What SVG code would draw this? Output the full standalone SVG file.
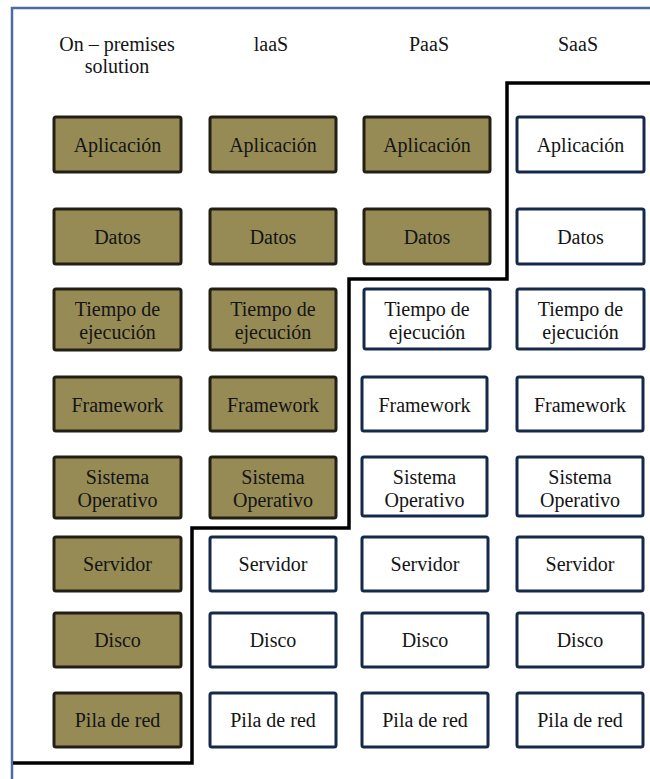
<svg xmlns="http://www.w3.org/2000/svg" width="650" height="779" viewBox="0 0 650 779">
  <style>
    .t { font-family: 'Liberation Serif', Tinos, 'Times New Roman', Times, 'DejaVu Serif', serif; font-size: 20px; fill: #141414; text-anchor: middle; }
    .own { fill: #968b55; stroke: #231f14; stroke-width: 3; }
    .svc { fill: #ffffff; stroke: #15294a; stroke-width: 3; }
    .frame { fill: none; stroke: #4a6c9e; stroke-width: 2.5; }
    .step { fill: none; stroke: #000000; stroke-width: 3.5; stroke-linejoin: miter; }
  </style>
  <rect width="650" height="779" fill="#ffffff"/>

  <!-- page frame -->
  <path class="frame" d="M 12 779 V 8 H 650"/>

  <!-- column headers -->
  <g id="headers">
    <text class="t" x="117" y="51">On – premises</text>
    <text class="t" x="117" y="73">solution</text>
    <text class="t" x="271" y="51">laaS</text>
    <text class="t" x="429" y="51">PaaS</text>
    <text class="t" x="578" y="51">SaaS</text>
  </g>

  <!-- responsibility boundary -->
  <g id="connectors">
    <path class="step" d="M 650 83 H 507 V 279 H 349 V 528 H 192 V 763 H 13"/>
  </g>

  <!-- On-premises column -->
  <g id="op-app"><rect class="own" x="54" y="117" width="127" height="55" rx="2"/><text class="t" x="117.5" y="152">Aplicación</text></g>
  <g id="op-data"><rect class="own" x="54" y="209" width="127" height="55" rx="2"/><text class="t" x="117.5" y="244">Datos</text></g>
  <g id="op-runtime"><rect class="own" x="54" y="289" width="127" height="61" rx="2"/><text class="t" x="117.5" y="316">Tiempo de</text><text class="t" x="117.5" y="339">ejecución</text></g>
  <g id="op-framework"><rect class="own" x="54" y="377" width="127" height="54" rx="2"/><text class="t" x="117.5" y="412">Framework</text></g>
  <g id="op-os"><rect class="own" x="54" y="457" width="127" height="61" rx="2"/><text class="t" x="117.5" y="484">Sistema</text><text class="t" x="117.5" y="507">Operativo</text></g>
  <g id="op-server"><rect class="own" x="54" y="537" width="127" height="54" rx="2"/><text class="t" x="117.5" y="571">Servidor</text></g>
  <g id="op-disk"><rect class="own" x="54" y="613" width="127" height="54" rx="2"/><text class="t" x="117.5" y="647">Disco</text></g>
  <g id="op-net"><rect class="own" x="54" y="693" width="127" height="54" rx="2"/><text class="t" x="117.5" y="727">Pila de red</text></g>

  <!-- IaaS column -->
  <g id="iaas-app"><rect class="own" x="210" y="117" width="126" height="55" rx="2"/><text class="t" x="273" y="152">Aplicación</text></g>
  <g id="iaas-data"><rect class="own" x="210" y="209" width="126" height="55" rx="2"/><text class="t" x="273" y="244">Datos</text></g>
  <g id="iaas-runtime"><rect class="own" x="210" y="289" width="126" height="61" rx="2"/><text class="t" x="273" y="316">Tiempo de</text><text class="t" x="273" y="339">ejecución</text></g>
  <g id="iaas-framework"><rect class="own" x="210" y="377" width="126" height="54" rx="2"/><text class="t" x="273" y="412">Framework</text></g>
  <g id="iaas-os"><rect class="own" x="210" y="457" width="126" height="61" rx="2"/><text class="t" x="273" y="484">Sistema</text><text class="t" x="273" y="507">Operativo</text></g>
  <g id="iaas-server"><rect class="svc" x="210" y="537" width="126" height="54" rx="2"/><text class="t" x="273" y="571">Servidor</text></g>
  <g id="iaas-disk"><rect class="svc" x="210" y="613" width="126" height="54" rx="2"/><text class="t" x="273" y="647">Disco</text></g>
  <g id="iaas-net"><rect class="svc" x="210" y="693" width="126" height="54" rx="2"/><text class="t" x="273" y="727">Pila de red</text></g>

  <!-- PaaS column -->
  <g id="paas-app"><rect class="own" x="364" y="117" width="126" height="55" rx="2"/><text class="t" x="427" y="152">Aplicación</text></g>
  <g id="paas-data"><rect class="own" x="364" y="209" width="126" height="55" rx="2"/><text class="t" x="427" y="244">Datos</text></g>
  <g id="paas-runtime"><rect class="svc" x="364" y="289" width="126" height="60" rx="2"/><text class="t" x="427" y="316">Tiempo de</text><text class="t" x="427" y="339">ejecución</text></g>
  <g id="paas-framework"><rect class="svc" x="362" y="377" width="125" height="54" rx="2"/><text class="t" x="424.5" y="412">Framework</text></g>
  <g id="paas-os"><rect class="svc" x="362" y="457" width="125" height="59" rx="2"/><text class="t" x="424.5" y="484">Sistema</text><text class="t" x="424.5" y="507">Operativo</text></g>
  <g id="paas-server"><rect class="svc" x="362" y="537" width="126" height="54" rx="2"/><text class="t" x="425" y="571">Servidor</text></g>
  <g id="paas-disk"><rect class="svc" x="362" y="613" width="126" height="54" rx="2"/><text class="t" x="425" y="647">Disco</text></g>
  <g id="paas-net"><rect class="svc" x="362" y="693" width="126" height="54" rx="2"/><text class="t" x="425" y="727">Pila de red</text></g>

  <!-- SaaS column -->
  <g id="saas-app"><rect class="svc" x="517" y="117" width="127" height="55" rx="2"/><text class="t" x="580.5" y="152">Aplicación</text></g>
  <g id="saas-data"><rect class="svc" x="517" y="209" width="127" height="55" rx="2"/><text class="t" x="580.5" y="244">Datos</text></g>
  <g id="saas-runtime"><rect class="svc" x="517" y="289" width="127" height="60" rx="2"/><text class="t" x="580.5" y="316">Tiempo de</text><text class="t" x="580.5" y="339">ejecución</text></g>
  <g id="saas-framework"><rect class="svc" x="517" y="377" width="126" height="54" rx="2"/><text class="t" x="580" y="412">Framework</text></g>
  <g id="saas-os"><rect class="svc" x="517" y="457" width="126" height="59" rx="2"/><text class="t" x="580" y="484">Sistema</text><text class="t" x="580" y="507">Operativo</text></g>
  <g id="saas-server"><rect class="svc" x="517" y="537" width="126" height="54" rx="2"/><text class="t" x="580" y="571">Servidor</text></g>
  <g id="saas-disk"><rect class="svc" x="517" y="613" width="126" height="54" rx="2"/><text class="t" x="580" y="647">Disco</text></g>
  <g id="saas-net"><rect class="svc" x="517" y="693" width="126" height="54" rx="2"/><text class="t" x="580" y="727">Pila de red</text></g>
</svg>
